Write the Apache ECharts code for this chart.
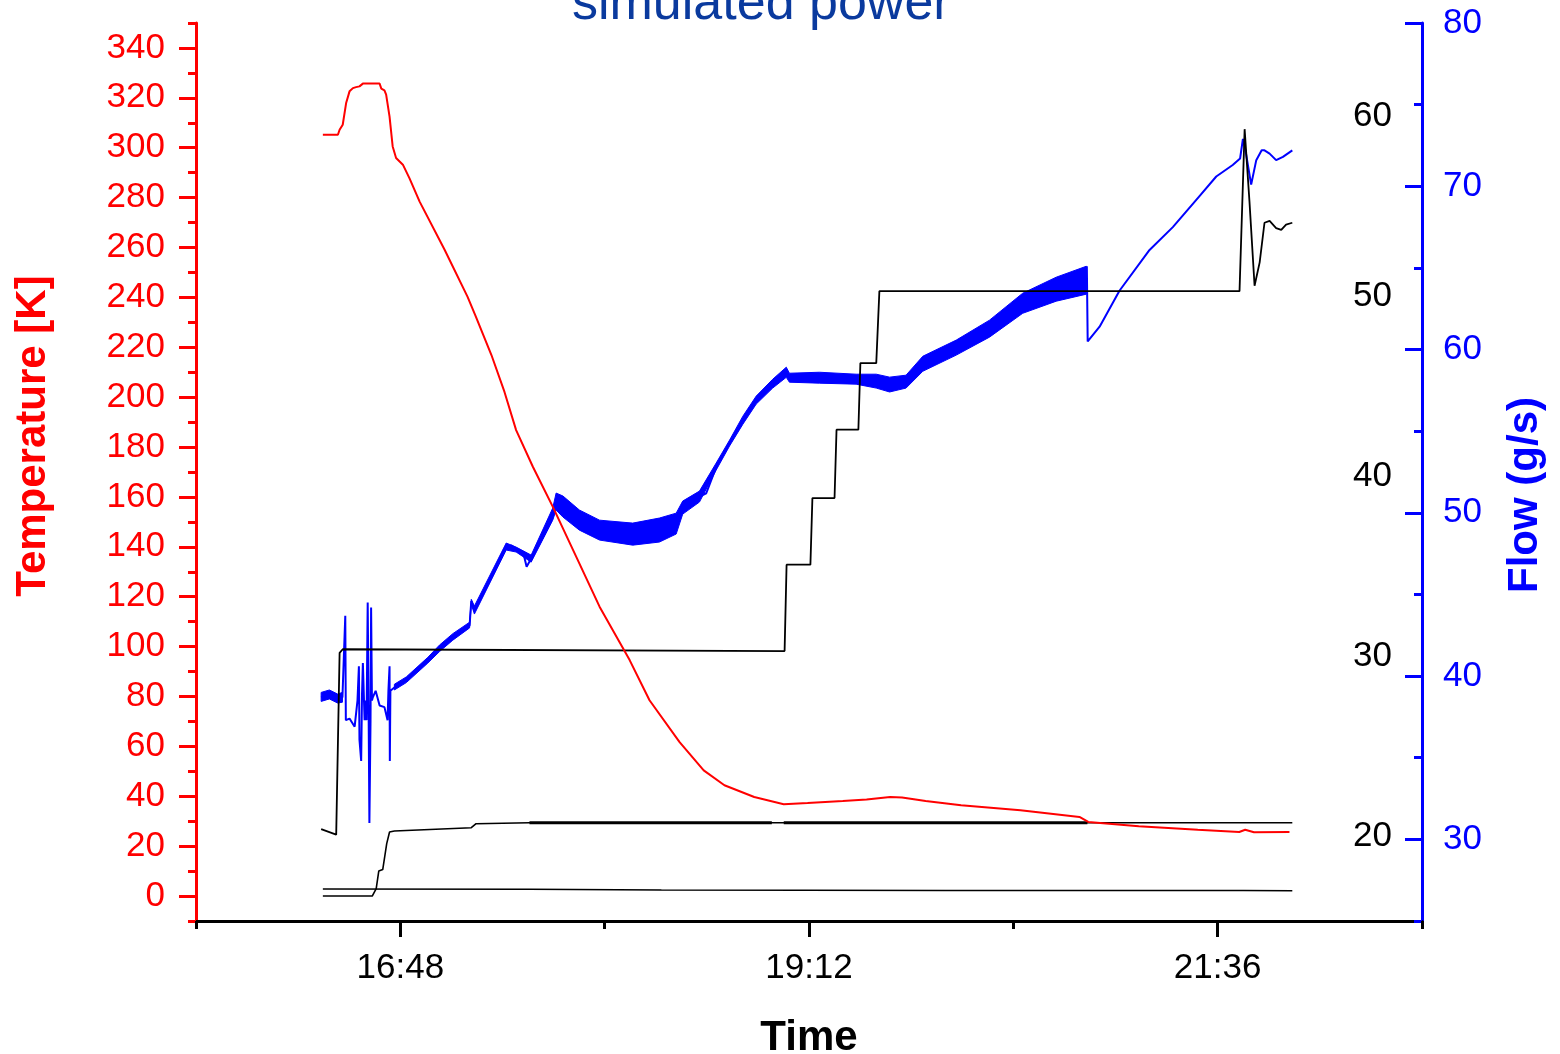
<!DOCTYPE html>
<html>
<head>
<meta charset="utf-8">
<script src="https://cdn.jsdelivr.net/npm/echarts@6/dist/echarts.min.js"></script>
<style>
html,body{margin:0;padding:0;background:#fff;}
#chart{width:1560px;height:1054px;}
</style>
</head>
<body>
<div id="chart"></div>
<script>
// ---- time is in minutes since midnight ----
const xTickLabels = [1008, 1152, 1296];          // 16:48, 19:12, 21:36
const xMinorTicks = [936, 1080, 1224, 1368];
const tempTicks = [0,20,40,60,80,100,120,140,160,180,200,220,240,260,280,300,320,340];
const tempMinorTicks = [-10,10,30,50,70,90,110,130,150,170,190,210,230,250,270,290,310,330,350];
const flowTicks = [30,40,50,60,70,80];
const flowMinorTicks = [25,35,45,55,65,75];
const powerTicks = [20,30,40,50,60];

// Temperature [K] (red)
const tempTime = [980.7,986.0,986.6,987.7,988.3,988.9,990.1,991.3,992.4,993.6,994.8,1000.7,1001.3,1002.4,1003.0,1004.2,1005.3,1006.5,1008.9,1011.2,1014.8,1023.6,1031.7,1034.5,1040.1,1044.7,1048.8,1054.7,1061.7,1070.0,1078.2,1088.8,1095.8,1106.4,1114.9,1122.2,1132.7,1143.1,1151.5,1163.9,1172.3,1180.6,1184.8,1193.1,1205.6,1226.5,1247.3,1250.4,1268.2,1289.0,1303.6,1305.7,1308.8,1321.3];
const tempK = [305.2,305.2,307.2,309.2,309.9,317.9,322.6,323.9,324.3,324.6,325.7,325.7,323.7,323.0,321.3,312.5,300.5,295.9,293.2,287.8,278.4,259.1,240.2,232.6,216.9,202.1,186.8,172.1,156.1,136.0,116.0,94.6,78.5,61.7,50.4,44.4,39.7,36.8,37.3,38.1,38.7,39.7,39.5,38.1,36.4,34.4,31.7,29.7,28.0,26.6,25.7,26.6,25.6,25.7];

// simulated power (black, inner right scale)
const powerTime = [980.1,985.4,986.0,986.6,987.7,1143.4,1144.1,1152.5,1153.2,1161.0,1161.7,1169.4,1170.1,1175.7,1176.8,1303.7,1305.5,1307.2,1309.0,1310.8,1312.5,1314.3,1316.6,1318.4,1320.1,1322.3];
const powerVal = [20.4,20.1,20.2,30.2,30.4,30.3,35.1,35.1,38.8,38.8,42.6,42.6,46.3,46.3,50.3,50.3,59.3,55.3,50.6,51.9,54.1,54.2,53.8,53.7,54.0,54.1];

// second black temperature channel (left scale)
const chanATime = [980.7,998.1,999.5,1000.4,1001.8,1003.2,1004.2,1005.9,1033.0,1034.7,1053.5,1250.1,1322.3];
const chanAK = [0.0,0.0,3.0,10.0,10.6,21.0,25.7,26.1,27.4,29.0,29.4,29.4,29.4];
const chanANoiseTime = [1053.5,1138.9,1141.0,1143.1,1250.1];
const chanANoiseK = [29.4,29.4,null,29.4,29.4];

// third black channel (left scale)
const chanBTime = [980.7,1053.5,1100.0,1200.0,1305.0,1322.3];
const chanBK = [2.8,2.7,2.4,2.2,2.2,2.1];

// Flow (g/s) (blue)
const flowTime = [980.1,983.0,985.9,987.6,988.6,988.8,990.1,991.9,992.9,993.4,993.6,994.2,994.5,994.8,995.4,995.7,996.1,996.5,996.8,997.1,997.5,997.7,998.0,998.3,999.3,1000.7,1002.4,1003.5,1003.8,1004.2,1004.3,1004.5,1005.9,1010.1,1017.7,1021.8,1026.5,1032.4,1033.0,1034.1,1045.3,1047.2,1048.8,1051.2,1051.8,1052.5,1052.9,1054.1,1057.0,1059.4,1061.7,1062.9,1065.3,1071.1,1078.2,1089.9,1099.3,1105.2,1107.5,1113.4,1115.8,1119.3,1124.0,1128.7,1133.4,1139.2,1144.0,1145.1,1155.7,1168.6,1175.7,1180.4,1186.2,1192.1,1203.9,1215.6,1227.3,1239.1,1249.7,1249.9,1250.2,1254.4,1261.4,1272.0,1280.2,1289.6,1295.5,1301.3,1303.9,1304.9,1305.8,1307.8,1309.6,1311.5,1312.5,1314.3,1316.6,1319.0,1322.3];
const flowGs = [38.7,38.9,38.6,38.7,43.7,37.3,37.4,36.9,38.5,40.6,36.1,34.8,38.9,40.8,37.3,38.5,37.3,44.5,38.5,31.0,37.3,44.2,38.5,38.7,39.1,38.2,38.1,37.3,39.1,40.6,34.8,39.1,39.3,39.8,41.0,41.7,42.4,43.1,44.6,44.0,47.9,48.0,47.8,47.6,47.2,46.7,46.7,47.2,48.1,48.9,50.0,50.7,50.4,49.6,48.9,48.7,48.9,49.4,50.3,51.0,51.2,52.8,54.3,55.7,56.9,57.9,58.6,58.3,58.3,58.2,58.1,57.9,58.1,59.2,60.2,61.3,62.8,63.7,64.3,65.1,60.5,61.4,63.6,66.1,67.5,69.4,70.6,71.3,71.7,72.9,72.2,70.1,71.6,72.2,72.2,72.0,71.6,71.8,72.2];

// envelope of the oscillating flow signal
const flowBandStartTime = [980.1,983.0,985.9,987.6];
const flowBandStartLow = [38.45,38.6,38.35,38.4];
const flowBandStartHigh = [39.0,39.15,38.9,39.0];
const flowBandTime = [1005.9,1010.1,1017.7,1021.8,1026.5,1032.4,1033.0,1034.1,1045.3,1048.8,1054.1,1061.7,1062.9,1065.3,1071.1,1078.2,1089.9,1099.3,1105.2,1107.5,1113.4,1119.3,1124.0,1128.7,1133.4,1139.2,1144.0,1145.1,1155.7,1168.6,1175.7,1180.4,1186.2,1192.1,1203.9,1215.6,1227.3,1239.1,1249.7];
const flowBandLow = [39.15,39.6,40.8,41.5,42.2,42.95,44.4,43.80,47.72,47.6,46.98,49.55,50.17,49.74,48.94,48.33,48.02,48.21,48.70,49.92,50.66,52.62,54.09,55.43,56.66,57.64,58.30,58.00,57.94,57.88,57.64,57.40,57.64,58.67,59.66,60.76,62.22,62.96,63.39];
const flowBandHigh = [39.5,39.95,41.15,41.9,42.6,43.3,44.7,44.29,48.15,47.9,47.41,50.29,51.21,51.03,50.17,49.55,49.37,49.68,49.98,50.72,51.33,53.05,54.45,55.92,57.15,58.18,58.92,58.55,58.61,58.49,58.49,58.31,58.43,59.59,60.58,61.80,63.45,64.43,65.10];

const zip = (a, b) => a.map((v, i) => [v, b[i]]);
const fmtTime = v => { const h = Math.floor(v / 60); const m = Math.round(v - h * 60); return h + ':' + (m < 10 ? '0' : '') + m; };

const FONT = "'Liberation Sans', Arial, sans-serif";
const RED = '#ff0000', BLUE = '#0000ff', BLACK = '#000000';

// band polygon drawn through the series' own axes (api.coord)
function bandSeries(times, lows, highs) {
  return {
    type: 'custom', xAxisIndex: 0, yAxisIndex: 2, z: 2, clip: true, silent: true,
    data: times.map((t, i) => [t, lows[i], highs[i]]),
    encode: { x: 0, y: [1, 2] },
    renderItem: function (params, api) {
      if (params.dataIndex !== 0) return null;
      const pts = [];
      for (let i = 0; i < times.length; i++) pts.push(api.coord([times[i], highs[i]]));
      for (let i = times.length - 1; i >= 0; i--) pts.push(api.coord([times[i], lows[i]]));
      return { type: 'polygon', shape: { points: pts }, style: { fill: BLUE, stroke: BLUE, lineWidth: 1 } };
    }
  };
}

const chart = echarts.init(document.getElementById('chart'));
chart.setOption({
  animation: false,
  backgroundColor: '#ffffff',
  textStyle: { fontFamily: FONT },
  title: {
    text: 'simulated power',
    left: 567, top: -26,
    textStyle: { color: '#0a3a9e', fontSize: 52, fontWeight: 'normal', fontFamily: FONT }
  },
  grid: { left: 196, right: 138, top: 23, bottom: 133, containLabel: false, outerBoundsMode: 'none' },
  xAxis: [
    {
      type: 'value', position: 'bottom', min: 936, max: 1368,
      axisLine: { show: true, onZero: false, lineStyle: { color: BLACK, width: 3 } },
      axisTick: { show: true, customValues: xTickLabels, length: 16, lineStyle: { color: BLACK, width: 3 } },
      axisLabel: { customValues: xTickLabels, formatter: fmtTime, color: BLACK, fontSize: 35, margin: 30, fontFamily: FONT },
      splitLine: { show: false },
      name: 'Time', nameLocation: 'middle', nameGap: 96,
      nameTextStyle: { color: BLACK, fontSize: 42, fontWeight: 'bold', fontFamily: FONT }
    },
    {
      type: 'value', position: 'bottom', min: 936, max: 1368,
      axisLine: { show: false, onZero: false },
      axisTick: { show: true, customValues: xMinorTicks, length: 8, lineStyle: { color: BLACK, width: 3 } },
      axisLabel: { show: false },
      splitLine: { show: false }
    }
  ],
  yAxis: [
    {
      type: 'value', position: 'left', min: -10, max: 350,
      axisLine: { show: true, onZero: false, lineStyle: { color: RED, width: 3 } },
      axisTick: { show: true, customValues: tempTicks, length: 17, lineStyle: { color: RED, width: 3 } },
      axisLabel: { customValues: tempTicks, color: RED, fontSize: 35, margin: 31, fontFamily: FONT },
      splitLine: { show: false },
      name: 'Temperature [K]', nameLocation: 'middle', nameRotate: 90, nameGap: 142,
      nameTextStyle: { color: RED, fontSize: 42, fontWeight: 'bold', fontFamily: FONT, padding: [0, 0, 0, 72] }
    },
    {
      type: 'value', position: 'left', min: -10, max: 350,
      axisLine: { show: false, onZero: false },
      axisTick: { show: true, customValues: tempMinorTicks, length: 8, lineStyle: { color: RED, width: 3 } },
      axisLabel: { show: false },
      splitLine: { show: false }
    },
    {
      type: 'value', position: 'right', min: 25, max: 80,
      axisLine: { show: true, onZero: false, lineStyle: { color: BLUE, width: 3 } },
      axisTick: { show: true, inside: true, customValues: flowTicks, length: 17, lineStyle: { color: BLUE, width: 3 } },
      axisLabel: { customValues: flowTicks, color: BLUE, fontSize: 35, margin: 21, fontFamily: FONT },
      splitLine: { show: false },
      name: 'Flow (g/s)', nameLocation: 'middle', nameRotate: 90, nameGap: 82,
      nameTextStyle: { color: BLUE, fontSize: 42, fontWeight: 'bold', fontFamily: FONT, padding: [0, 46, 0, 0] }
    },
    {
      type: 'value', position: 'right', min: 25, max: 80,
      axisLine: { show: false, onZero: false },
      axisTick: { show: true, inside: true, customValues: flowMinorTicks, length: 8, lineStyle: { color: BLUE, width: 3 } },
      axisLabel: { show: false },
      splitLine: { show: false }
    },
    {
      type: 'value', position: 'right', min: 15.3, max: 65.2,
      axisLine: { show: false, onZero: false },
      axisTick: { show: false },
      axisLabel: { customValues: powerTicks, inside: true, color: BLACK, fontSize: 35, margin: 30, fontFamily: FONT },
      splitLine: { show: false }
    }
  ],
  series: [
    bandSeries(flowBandStartTime, flowBandStartLow, flowBandStartHigh),
    bandSeries(flowBandTime, flowBandLow, flowBandHigh),
    { type: 'line', name: 'Flow', xAxisIndex: 0, yAxisIndex: 2, symbol: 'none',
      lineStyle: { width: 2, color: BLUE }, data: zip(flowTime, flowGs), z: 3 },
    { type: 'line', name: 'channel B', xAxisIndex: 0, yAxisIndex: 0, symbol: 'none',
      lineStyle: { width: 1.6, color: BLACK }, data: zip(chanBTime, chanBK), z: 4 },
    { type: 'line', name: 'channel A', xAxisIndex: 0, yAxisIndex: 0, symbol: 'none',
      lineStyle: { width: 1.6, color: BLACK }, data: zip(chanATime, chanAK), z: 4 },
    { type: 'line', name: 'channel A noise', xAxisIndex: 0, yAxisIndex: 0, symbol: 'none',
      lineStyle: { width: 3, color: BLACK }, data: zip(chanANoiseTime, chanANoiseK), z: 4 },
    { type: 'line', name: 'simulated power', xAxisIndex: 0, yAxisIndex: 4, symbol: 'none',
      lineStyle: { width: 1.8, color: BLACK }, data: zip(powerTime, powerVal), z: 4 },
    { type: 'line', name: 'Temperature', xAxisIndex: 0, yAxisIndex: 0, symbol: 'none',
      lineStyle: { width: 2, color: RED }, data: zip(tempTime, tempK), z: 5 }
  ]
});
</script>
</body>
</html>
